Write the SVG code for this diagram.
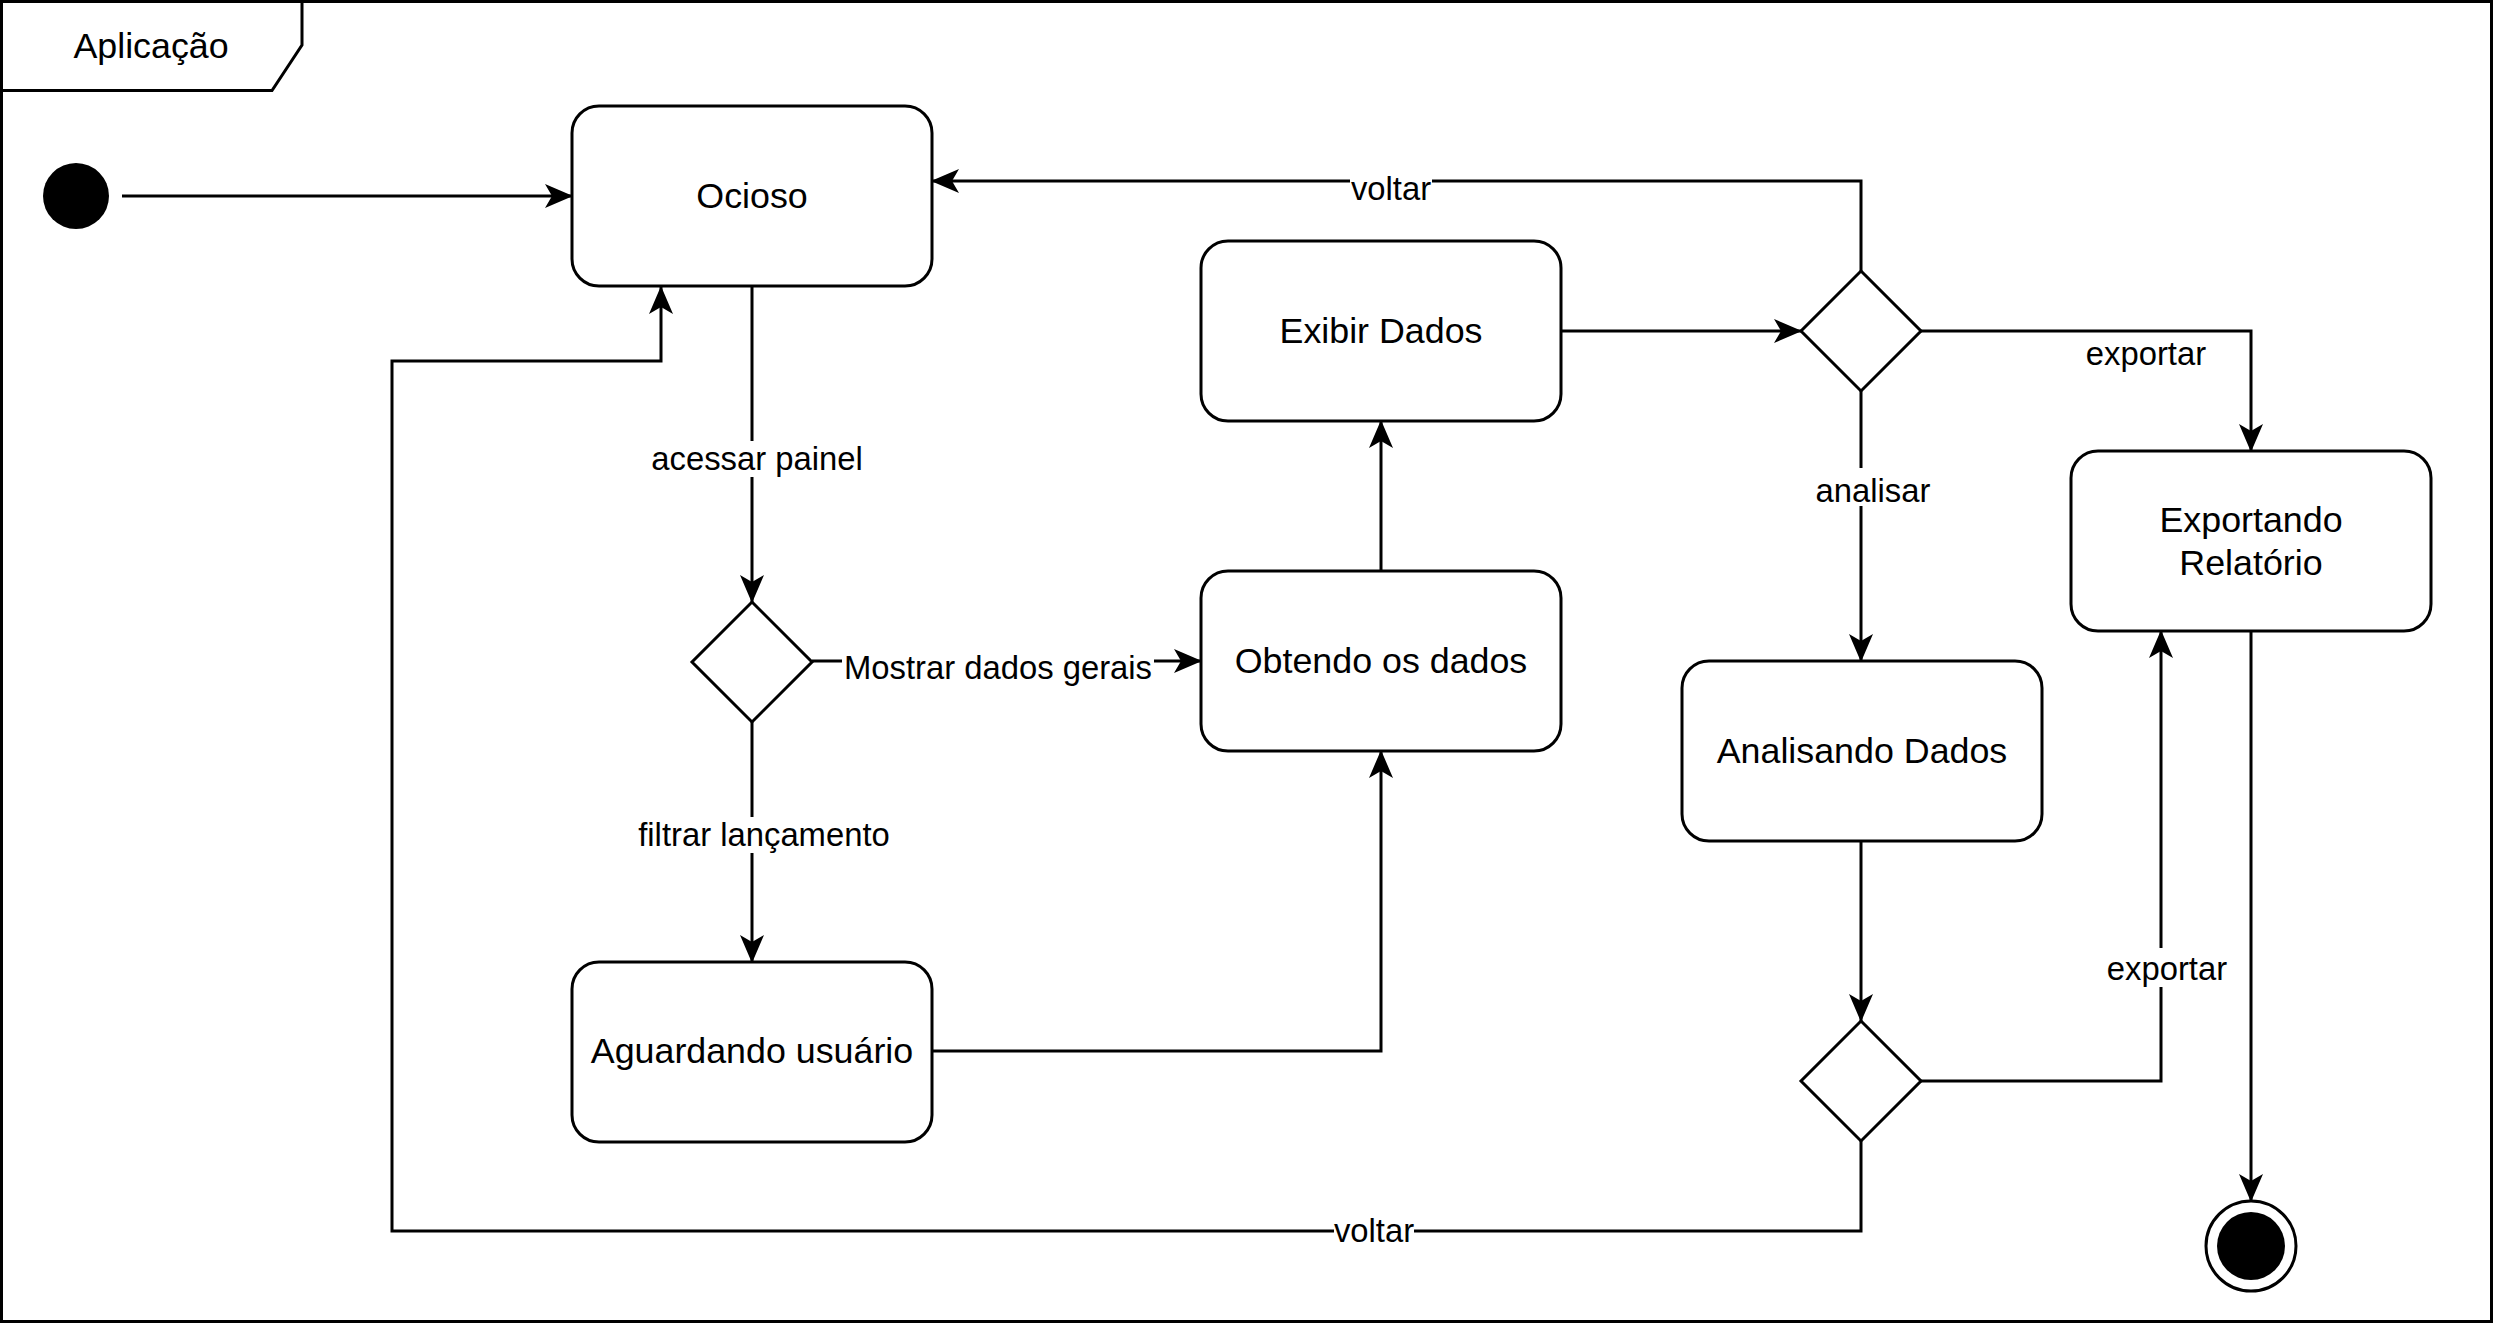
<svg xmlns="http://www.w3.org/2000/svg" width="2493" height="1323" viewBox="0 0 2493 1323">
<style>
.node{fill:#fff;stroke:#000;stroke-width:3}
.edge{fill:none;stroke:#000;stroke-width:3}
.lbl{font-family:"Liberation Sans",Arial,sans-serif;font-size:32.8px;fill:#000;text-anchor:middle}
.ntx{font-family:"Liberation Sans",Arial,sans-serif;font-size:35.8px;fill:#000;text-anchor:middle}
.bg{fill:#fff;stroke:none}
</style>
<defs>
<marker id="arr" viewBox="0 0 28 24" refX="27" refY="12" markerWidth="28" markerHeight="24" markerUnits="userSpaceOnUse" orient="auto">
<path d="M0,0 L28,12 L0,24 L7,12 Z" fill="#000"/>
</marker>
</defs>
<rect x="0" y="0" width="2493" height="1323" fill="#fff"/>
<g id="frame">
<rect x="1.5" y="1.5" width="2490" height="1320" fill="none" stroke="#000" stroke-width="3"/>
<path d="M302,1.5 L302,45 L272,90.5 L1.5,90.5" fill="none" stroke="#000" stroke-width="3"/>
<text class="ntx" x="151" y="58">Aplicação</text>
</g>
<g id="connectors">
<path class="edge" d="M122,196 L572,196" marker-end="url(#arr)"/>
<path class="edge" d="M752,286 L752,602" marker-end="url(#arr)"/>
<path class="edge" d="M812,661 L1201,661" marker-end="url(#arr)"/>
<path class="edge" d="M752,722 L752,962" marker-end="url(#arr)"/>
<path class="edge" d="M932,1051 L1381,1051 L1381,751" marker-end="url(#arr)"/>
<path class="edge" d="M1381,571 L1381,421" marker-end="url(#arr)"/>
<path class="edge" d="M1561,331 L1801,331" marker-end="url(#arr)"/>
<path class="edge" d="M1861,271 L1861,181 L932,181" marker-end="url(#arr)"/>
<path class="edge" d="M1921,331 L2251,331 L2251,451" marker-end="url(#arr)"/>
<path class="edge" d="M1861,391 L1861,661" marker-end="url(#arr)"/>
<path class="edge" d="M1861,841 L1861,1021" marker-end="url(#arr)"/>
<path class="edge" d="M1921,1081 L2161,1081 L2161,631" marker-end="url(#arr)"/>
<path class="edge" d="M2251,631 L2251,1201" marker-end="url(#arr)"/>
<path class="edge" d="M1861,1141 L1861,1231 L392,1231 L392,361 L661,361 L661,287" marker-end="url(#arr)"/>
<rect class="bg" x="650" y="441" width="214" height="36"/>
<text class="lbl" x="757" y="470">acessar painel</text>
<rect class="bg" x="842" y="645" width="312" height="36"/>
<text class="lbl" x="998" y="679">Mostrar dados gerais</text>
<rect class="bg" x="636" y="817" width="256" height="36"/>
<text class="lbl" x="764" y="846">filtrar lançamento</text>
<rect class="bg" x="1350" y="172" width="82" height="34"/>
<text class="lbl" x="1391" y="200">voltar</text>
<text class="lbl" x="2146" y="365">exportar</text>
<rect class="bg" x="1814" y="468" width="118" height="38"/>
<text class="lbl" x="1873" y="502">analisar</text>
<rect class="bg" x="2105" y="948" width="124" height="39"/>
<text class="lbl" x="2167" y="980">exportar</text>
<rect class="bg" x="1334" y="1214" width="80" height="34"/>
<text class="lbl" x="1374" y="1242">voltar</text>
</g>
<g id="start"><circle cx="76" cy="196" r="33" fill="#000"/></g>
<g id="ocioso"><rect class="node" x="572" y="106" width="360" height="180" rx="27"/><text class="ntx" x="752" y="208">Ocioso</text></g>
<g id="decisao1"><path class="node" d="M752,602 L812,662 L752,722 L692,662 Z"/></g>
<g id="aguardando"><rect class="node" x="572" y="962" width="360" height="180" rx="27"/><text class="ntx" x="752" y="1063">Aguardando usuário</text></g>
<g id="obtendo"><rect class="node" x="1201" y="571" width="360" height="180" rx="27"/><text class="ntx" x="1381" y="673">Obtendo os dados</text></g>
<g id="exibir"><rect class="node" x="1201" y="241" width="360" height="180" rx="27"/><text class="ntx" x="1381" y="343">Exibir Dados</text></g>
<g id="decisao2"><path class="node" d="M1861,271 L1921,331 L1861,391 L1801,331 Z"/></g>
<g id="analisando"><rect class="node" x="1682" y="661" width="360" height="180" rx="27"/><text class="ntx" x="1862" y="763">Analisando Dados</text></g>
<g id="decisao3"><path class="node" d="M1861,1021 L1921,1081 L1861,1141 L1801,1081 Z"/></g>
<g id="exportando"><rect class="node" x="2071" y="451" width="360" height="180" rx="27"/><text class="ntx" x="2251" y="532">Exportando</text><text class="ntx" x="2251" y="575">Relatório</text></g>
<g id="fim"><circle cx="2251" cy="1246" r="45" fill="#fff" stroke="#000" stroke-width="3"/><circle cx="2251" cy="1246" r="34" fill="#000"/></g>
</svg>
